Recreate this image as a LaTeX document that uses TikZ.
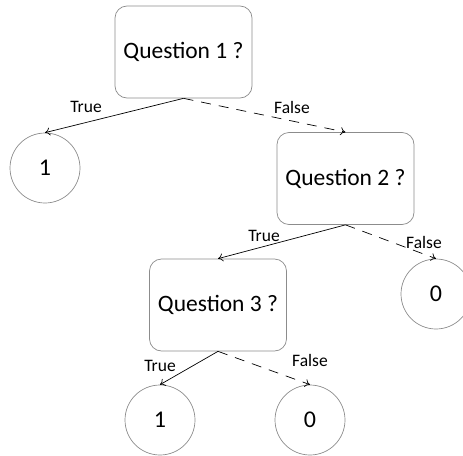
\documentclass[tikz,border=0pt]{standalone}
\usepackage{fontspec}
\setmainfont{Carlito}
\usetikzlibrary{arrows.meta}
\begin{document}
\begin{tikzpicture}[x=1pt,y=-1pt,
  qbox/.style={draw=black!45, line width=0.7pt, rounded corners=12pt, minimum width=137pt, minimum height=92pt, inner sep=0pt, font=\fontsize{23.5}{28}\selectfont},
  leaf/.style={draw=black!45, line width=0.7pt, circle, minimum size=70pt, inner sep=0pt, font=\fontsize{24}{28}\selectfont},
  edge/.style={draw=black, line width=0.7pt, -{To[length=5pt,width=8pt]}},
  fedge/.style={edge, dash pattern=on 10pt off 8pt},
  lbl/.style={font=\fontsize{17.5}{21}\selectfont, inner sep=0pt}]
\useasboundingbox (0,0) rectangle (463,455);
\node[qbox] (q1) at (183.5,52) {Question 1 ?};
\node[qbox] (q2) at (345.5,178.5) {Question 2 ?};
\node[qbox] (q3) at (218,305) {Question 3 ?};
\node[leaf] (l1) at (45,168) {1};
\node[leaf] (l0a) at (436,294) {0};
\node[leaf] (l1b) at (160,420) {1};
\node[leaf] (l0b) at (310,420) {0};
\draw[edge] (q1.south) -- (l1.north);
\draw[fedge] (q1.south) -- (q2.north);
\draw[edge] (q2.south) -- (q3.north);
\draw[fedge] (q2.south) -- (l0a.north);
\draw[edge] (q3.south) -- (l1b.north);
\draw[fedge] (q3.south) -- (l0b.north);
\node[lbl] (t1) at (86,107) {True};
\node[lbl] (f1) at (292,107) {False};
\node[lbl] (t2) at (264,236) {True};
\node[lbl] (f2) at (424,242) {False};
\node[lbl] (t3) at (160,366) {True};
\node[lbl] (f3) at (310,360) {False};
\end{tikzpicture}
\end{document}
